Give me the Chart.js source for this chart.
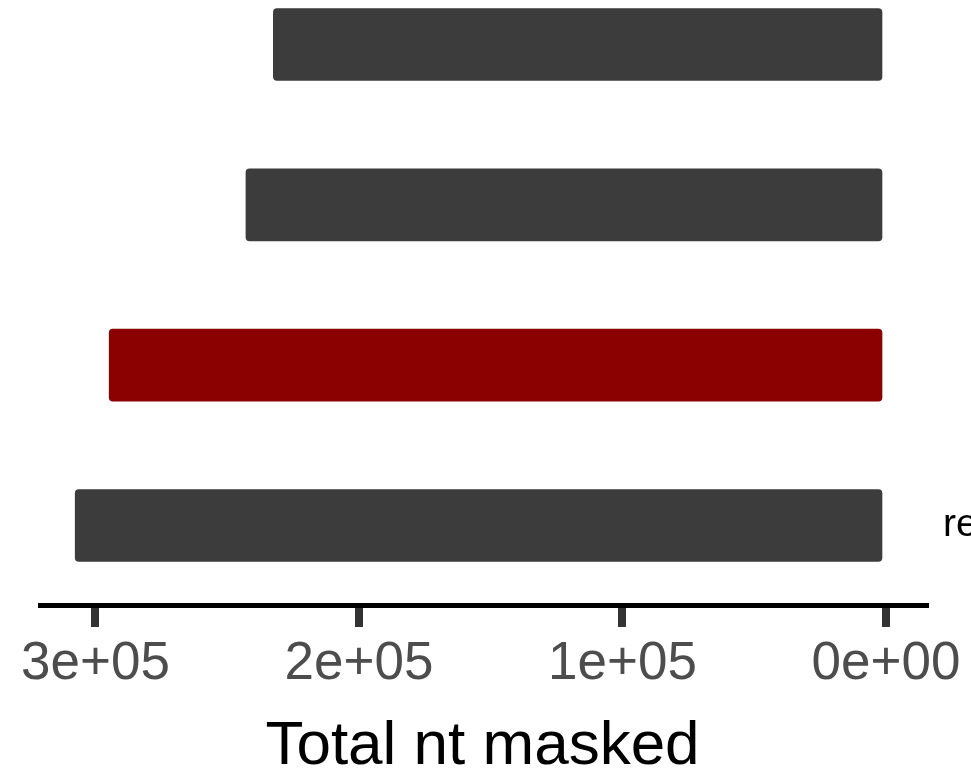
<!DOCTYPE html>
<html>
<head>
<meta charset="utf-8">
<script src="https://cdn.jsdelivr.net/npm/chart.js@4/dist/chart.umd.min.js"></script>
<style>
  html, body { margin: 0; padding: 0; background: #ffffff; overflow: hidden; }
  canvas { display: block; background: #ffffff; }
</style>
</head>
<body>
<canvas id="chart" width="971" height="784"></canvas>
<script>
// Categories, top to bottom; only the last one carries a visible name.
const categories = ['', '', '', 'reference'];
// Total nucleotides masked per category.
const ntMasked = [232500, 242900, 294800, 307700];
// Category shown in red.
const highlightIndex = 2;
// x axis ticks.
const tickValues = [0, 100000, 200000, 300000];
const tickLabels = ['0e+00', '1e+05', '2e+05', '3e+05'];

const FONT = '"Liberation Sans", Arial, Helvetica, sans-serif';
const GRAY_BAR = '#3c3c3c';
const RED_BAR = '#8b0000';

new Chart(document.getElementById('chart'), {
  type: 'bar',
  data: {
    datasets: [{
      data: ntMasked.map((v, i) => ({ x: v, y: i })),
      backgroundColor: categories.map((c, i) => i === highlightIndex ? RED_BAR : GRAY_BAR),
      borderWidth: 0,
      borderRadius: 4,
      borderSkipped: false,
      barThickness: 72
    }]
  },
  options: {
    indexAxis: 'y',
    responsive: false,
    animation: false,
    layout: { padding: { left: 40, right: 0, top: 0, bottom: 0 } },
    plugins: {
      legend: { display: false },
      tooltip: { enabled: false }
    },
    scales: {
      x: {
        type: 'linear',
        position: 'bottom',
        reverse: true,
        offset: false,
        min: -14800,
        max: 321060,
        afterBuildTicks: (scale) => {
          scale.ticks = tickValues.map(v => ({ value: v }));
        },
        afterFit: (scale) => {
          scale.height = 178.5;
          scale.paddingLeft = 0;
          scale.paddingRight = 0;
        },
        grid: {
          display: true,
          drawOnChartArea: false,
          drawTicks: true,
          tickLength: 21.5,
          lineWidth: 8,
          color: '#333333'
        },
        border: { display: true, color: '#000000', width: 5 },
        ticks: {
          padding: 6,
          color: '#4d4d4d',
          font: { family: FONT, size: 53 },
          maxRotation: 0,
          autoSkip: false,
          callback: (value, index) => tickLabels[index]
        },
        title: {
          display: true,
          text: 'Total nt masked',
          color: '#000000',
          font: { family: FONT, size: 62 },
          padding: { top: 0, bottom: 0 }
        }
      },
      y: {
        type: 'linear',
        position: 'right',
        reverse: true,
        offset: false,
        min: -0.2775,
        max: 3.499,
        afterBuildTicks: (scale) => {
          scale.ticks = categories.map((c, i) => ({ value: i }));
        },
        afterFit: (scale) => {
          scale.width = 46;
          scale.paddingTop = 0;
          scale.paddingBottom = 0;
        },
        grid: { display: false, drawTicks: false },
        border: { display: false },
        ticks: {
          padding: 18,
          color: '#000000',
          font: { family: FONT, size: 39 },
          autoSkip: false,
          callback: (value) => categories[value] ?? ''
        }
      }
    }
  }
});
</script>
</body>
</html>
